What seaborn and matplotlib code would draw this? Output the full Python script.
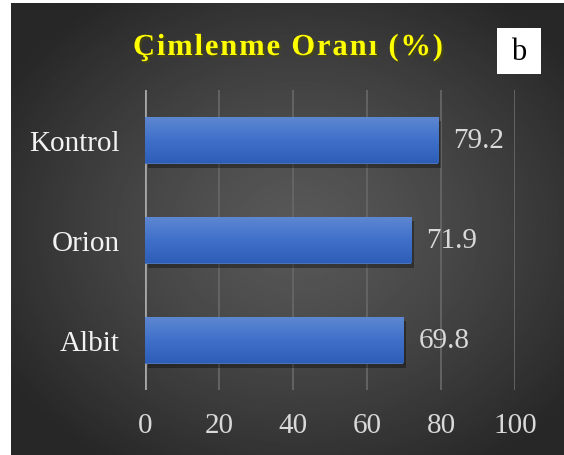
import numpy as np
import pandas as pd
import seaborn as sns
import matplotlib.pyplot as plt
import matplotlib.patheffects as pe
from matplotlib.patches import Rectangle

# data
categories = ['Kontrol', 'Orion', 'Albit']
values = [79.2, 71.9, 69.8]
x_ticks = [0, 20, 40, 60, 80, 100]
title = 'Çimlenme Oranı (%)'
panel_label = 'b'

df = pd.DataFrame({'kategori': categories, 'oran': values})

sns.set_theme(style='dark')
plt.rcParams['font.family'] = ['Liberation Serif', 'DejaVu Serif']

fig = plt.figure(figsize=(5.64, 4.56), dpi=100, facecolor='white')

# dark radial background
bg = fig.add_axes([11 / 564, 0, 1 - 11 / 564, 1 - 4 / 456], zorder=0)
yy, xx = np.mgrid[0:1:300j, 0:1:300j]
d = np.sqrt(((xx - 0.52) / 0.62) ** 2 + ((yy - 0.50) / 0.62) ** 2)
shade = 0.345 - (0.345 - 0.155) * np.clip(d, 0, 1) ** 1.3
bg.imshow(shade, cmap='gray', vmin=0, vmax=1, aspect='auto', extent=(0, 1, 0, 1))
bg.set_axis_off()

ax = fig.add_axes([145 / 564, 1 - 391 / 456, 370 / 564, 300 / 456], zorder=1)
ax.set_facecolor('none')

sns.barplot(data=df, x='oran', y='kategori', orient='h', color='#3d6cc8',
            width=0.47, ax=ax, zorder=3)

for p in ax.patches:
    p.set_path_effects([pe.SimplePatchShadow(offset=(2, -3.5), alpha=0.35, shadow_rgbFace='black'),
                        pe.Normal()])
    p.set_linewidth(0)
    x0, y0, w, h = p.get_x(), p.get_y(), p.get_width(), p.get_height()
    grad = np.linspace(0, 1, 50)
    cols = np.array([[0.37, 0.53, 0.82], [0.25, 0.44, 0.79], [0.18, 0.37, 0.72]])
    img = np.zeros((50, 1, 3))
    for c in range(3):
        img[:, 0, c] = np.interp(grad, [0, 0.5, 1], cols[:, c])
    im = ax.imshow(img, aspect='auto', extent=(x0, x0 + w, y0 + h, y0), origin='upper', zorder=4)
    im.set_clip_path(p)

for i, v in enumerate(values):
    ax.annotate(f'{v}', (v, i), xytext=(11, 0), textcoords='offset points',
                va='center', ha='left', fontsize=21, color='#d9d9d9', zorder=5)

ax.set_xlim(0, 100)
ax.set_ylim(2.5, -0.5)
ax.set_xticks(x_ticks)
ax.set_xticklabels([str(t) for t in x_ticks])
ax.grid(axis='x', color='#666666', linewidth=1.3, zorder=1)
ax.grid(axis='y', visible=False)
ax.axvline(0, color='#a6a6a6', linewidth=2, zorder=2)
for s in ax.spines.values():
    s.set_visible(False)
ax.set_xlabel('')
ax.set_ylabel('')
ax.tick_params(axis='x', length=0, pad=16, labelsize=21, labelcolor='#d9d9d9')
ax.tick_params(axis='y', length=0, pad=18, labelsize=21, labelcolor='#f2f2f2')

# title with letter spacing, spread over the same width as the reference
renderer = fig.canvas.get_renderer()
chars = []
for ch in title:
    t = fig.text(0, 0, ch, fontsize=22, fontweight='bold', color='#ffff00',
                 ha='left', va='baseline', zorder=5,
                 path_effects=[pe.withSimplePatchShadow(offset=(1.5, -1.5), alpha=0.6)])
    chars.append((t, t.get_window_extent(renderer).width))
total_w = 310.0
gap = (total_w - sum(w for _, w in chars)) / (len(chars) - 1)
x_px = 133.0
for t, w in chars:
    t.set_position((x_px / 564, 1 - 56 / 456))
    x_px += w + gap

# panel label box
fig.patches.append(Rectangle((497 / 564, 1 - 75 / 456), 44 / 564, 46 / 456,
                             transform=fig.transFigure, facecolor='white', edgecolor='none', zorder=4))
fig.text(519 / 564, 1 - 52 / 456, panel_label, fontsize=22, color='black',
         ha='center', va='center', zorder=5)

fig.savefig('out.png', dpi=100, facecolor='white')
